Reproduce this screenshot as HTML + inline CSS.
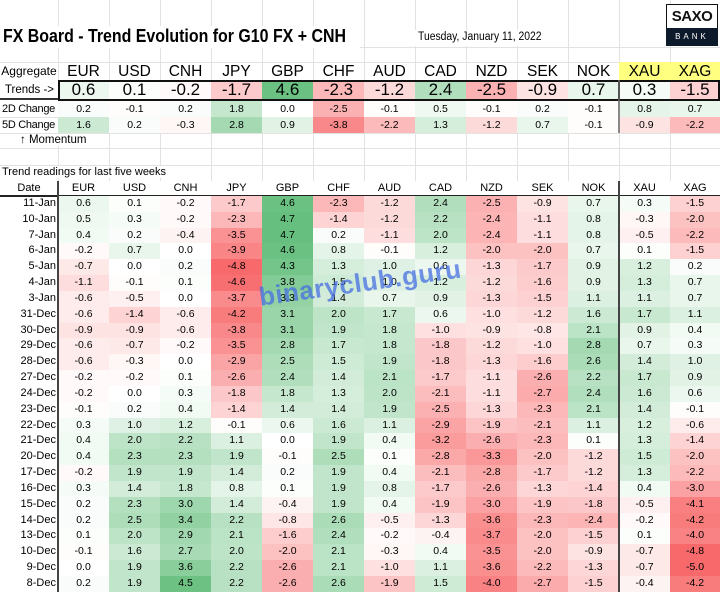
<!DOCTYPE html>
<html><head><meta charset="utf-8"><style>
*{margin:0;padding:0;box-sizing:border-box}
body{width:720px;height:592px;overflow:hidden;background:#fff;font-family:"Liberation Sans",sans-serif;color:#000;position:relative}
.abs{position:absolute}
.r{position:absolute;left:0;width:720px;display:flex}
.r>div{flex:none;width:51px;text-align:center;white-space:nowrap}
.r>div:first-child{width:58px}
.r>div:last-child{width:50px}
.vl{position:absolute;width:1px;background:#e2e2e2}
.hl{position:absolute;height:1px;background:#e2e2e2;left:0;width:720px}
#main{position:absolute;top:196px;left:0;width:720px}
#main .r{position:relative;height:15.84px;line-height:15.84px;font-size:10.5px}
#main .r>div:first-child{text-align:right;padding-right:2px;font-size:11px}
</style></head><body>
<div class="vl" style="left:58px;top:0;height:181px"></div>
<div class="vl" style="left:109px;top:0;height:181px"></div>
<div class="vl" style="left:160px;top:0;height:181px"></div>
<div class="vl" style="left:211px;top:0;height:181px"></div>
<div class="vl" style="left:262px;top:0;height:181px"></div>
<div class="vl" style="left:313px;top:0;height:181px"></div>
<div class="vl" style="left:364px;top:0;height:181px"></div>
<div class="vl" style="left:415px;top:0;height:181px"></div>
<div class="vl" style="left:466px;top:0;height:181px"></div>
<div class="vl" style="left:517px;top:0;height:181px"></div>
<div class="vl" style="left:568px;top:0;height:181px"></div>
<div class="vl" style="left:619px;top:0;height:181px"></div>
<div class="vl" style="left:670px;top:0;height:181px"></div>
<div class="hl" style="top:47px"></div><div class="hl" style="top:62px"></div>
<div class="hl" style="top:117px"></div><div class="hl" style="top:133px"></div>
<div class="hl" style="top:148px"></div><div class="hl" style="top:165px"></div>

<div class="abs" style="left:0;top:26px;width:360px;height:22px;background:#fff"></div>
<div class="abs" style="left:3px;top:26px;font-size:18px;font-weight:bold;white-space:nowrap;transform:scaleX(0.885);transform-origin:left top">FX Board - Trend Evolution for G10 FX + CNH</div>
<div class="abs" style="left:412px;top:30px;width:150px;height:16px;background:#fff"></div>
<div class="abs" style="left:418px;top:31px;font-size:11.5px;white-space:nowrap;transform:scaleX(0.9);transform-origin:left top">Tuesday, January 11, 2022</div>
<div class="abs" style="left:666px;top:4px;width:52px;height:42px;border:1px solid #111;background:#fff"></div>
<div class="abs" style="left:666px;top:8px;width:52px;text-align:center;font-size:15px;font-weight:bold;letter-spacing:-0.5px;color:#111">SAXO</div>
<div class="abs" style="left:666px;top:28px;width:52px;height:18px;background:#0d1a2b;color:#fff;font-size:8px;letter-spacing:3px;text-align:center;line-height:18px">BANK</div>

<div class="abs" style="left:619px;top:62px;width:101px;height:18px;background:#ffff80"></div>
<div class="r" style="top:62px;height:18px;line-height:19px;font-size:15.5px">
<div style="font-size:12px">Aggregate</div><div>EUR</div><div>USD</div><div>CNH</div><div>JPY</div><div>GBP</div><div>CHF</div><div>AUD</div><div>CAD</div><div>NZD</div><div>SEK</div><div>NOK</div><div>XAU</div><div>XAG</div></div>

<div class="r" style="top:80px;height:20px;line-height:20px;font-size:17px">
<div style="font-size:11.5px;text-align:right;padding-right:4px;border-bottom:2px solid #333">Trends -&gt;</div><div class="c">0.6</div><div class="c">0.1</div><div class="c">-0.2</div><div class="c">-1.7</div><div class="c">4.6</div><div class="c">-2.3</div><div class="c">-1.2</div><div class="c">2.4</div><div class="c">-2.5</div><div class="c">-0.9</div><div class="c">0.7</div><div class="c">0.3</div><div class="c">-1.5</div></div>
<div class="abs" style="left:58px;top:80px;width:662px;height:21px;border:2px solid #111"></div>
<div class="abs" style="left:618px;top:80px;width:2px;height:21px;background:#555"></div>

<div class="r" style="top:101px;height:16px;line-height:16px;font-size:10.5px">
<div style="font-size:11px;text-align:left;padding-left:2px;letter-spacing:-0.3px">2D Change</div><div class="c">0.2</div><div class="c">-0.1</div><div class="c">0.2</div><div class="c">1.8</div><div class="c">0.0</div><div class="c">-2.5</div><div class="c">-0.1</div><div class="c">0.5</div><div class="c">-0.1</div><div class="c">0.2</div><div class="c">-0.1</div><div class="c">0.8</div><div class="c">0.7</div></div>
<div class="r" style="top:117px;height:16px;line-height:16px;font-size:10.5px">
<div style="font-size:11px;text-align:left;padding-left:2px;letter-spacing:-0.3px">5D Change</div><div class="c">1.6</div><div class="c">0.2</div><div class="c">-0.3</div><div class="c">2.8</div><div class="c">0.9</div><div class="c">-3.8</div><div class="c">-2.2</div><div class="c">1.3</div><div class="c">-1.2</div><div class="c">0.7</div><div class="c">-0.1</div><div class="c">-0.9</div><div class="c">-2.2</div></div>
<div class="abs" style="left:618px;top:101px;width:2px;height:32px;background:#888"></div>
<div class="abs" style="left:20px;top:134px;font-size:11.5px;white-space:nowrap;background:#fff">↑ Momentum</div>
<div class="abs" style="left:2px;top:166px;font-size:11px;white-space:nowrap;background:#fff;padding-right:4px">Trend readings for last five weeks</div>

<div class="r" style="top:181px;height:15px;line-height:15px;font-size:11px;background:#fff">
<div>Date</div><div>EUR</div><div>USD</div><div>CNH</div><div>JPY</div><div>GBP</div><div>CHF</div><div>AUD</div><div>CAD</div><div>NZD</div><div>SEK</div><div>NOK</div><div>XAU</div><div>XAG</div></div>
<div class="abs" style="left:0;top:195px;width:720px;height:2px;background:#222"></div>

<div id="main">
<div class="r"><div>11-Jan</div><div class="c">0.6</div><div class="c">0.1</div><div class="c">-0.2</div><div class="c">-1.7</div><div class="c">4.6</div><div class="c">-2.3</div><div class="c">-1.2</div><div class="c">2.4</div><div class="c">-2.5</div><div class="c">-0.9</div><div class="c">0.7</div><div class="c">0.3</div><div class="c">-1.5</div></div>
<div class="r"><div>10-Jan</div><div class="c">0.5</div><div class="c">0.3</div><div class="c">-0.2</div><div class="c">-2.3</div><div class="c">4.7</div><div class="c">-1.4</div><div class="c">-1.2</div><div class="c">2.2</div><div class="c">-2.4</div><div class="c">-1.1</div><div class="c">0.8</div><div class="c">-0.3</div><div class="c">-2.0</div></div>
<div class="r"><div>7-Jan</div><div class="c">0.4</div><div class="c">0.2</div><div class="c">-0.4</div><div class="c">-3.5</div><div class="c">4.7</div><div class="c">0.2</div><div class="c">-1.1</div><div class="c">2.0</div><div class="c">-2.4</div><div class="c">-1.1</div><div class="c">0.8</div><div class="c">-0.5</div><div class="c">-2.2</div></div>
<div class="r"><div>6-Jan</div><div class="c">-0.2</div><div class="c">0.7</div><div class="c">0.0</div><div class="c">-3.9</div><div class="c">4.6</div><div class="c">0.8</div><div class="c">-0.1</div><div class="c">1.2</div><div class="c">-2.0</div><div class="c">-2.0</div><div class="c">0.7</div><div class="c">0.1</div><div class="c">-1.5</div></div>
<div class="r"><div>5-Jan</div><div class="c">-0.7</div><div class="c">0.0</div><div class="c">0.2</div><div class="c">-4.8</div><div class="c">4.3</div><div class="c">1.3</div><div class="c">1.0</div><div class="c">0.6</div><div class="c">-1.3</div><div class="c">-1.7</div><div class="c">0.9</div><div class="c">1.2</div><div class="c">0.2</div></div>
<div class="r"><div>4-Jan</div><div class="c">-1.1</div><div class="c">-0.1</div><div class="c">0.1</div><div class="c">-4.6</div><div class="c">3.8</div><div class="c">1.5</div><div class="c">1.0</div><div class="c">1.2</div><div class="c">-1.2</div><div class="c">-1.6</div><div class="c">0.9</div><div class="c">1.3</div><div class="c">0.7</div></div>
<div class="r"><div>3-Jan</div><div class="c">-0.6</div><div class="c">-0.5</div><div class="c">0.0</div><div class="c">-3.7</div><div class="c">3.3</div><div class="c">1.4</div><div class="c">0.7</div><div class="c">0.9</div><div class="c">-1.3</div><div class="c">-1.5</div><div class="c">1.1</div><div class="c">1.1</div><div class="c">0.7</div></div>
<div class="r"><div>31-Dec</div><div class="c">-0.6</div><div class="c">-1.4</div><div class="c">-0.6</div><div class="c">-4.2</div><div class="c">3.1</div><div class="c">2.0</div><div class="c">1.7</div><div class="c">0.6</div><div class="c">-1.0</div><div class="c">-1.2</div><div class="c">1.6</div><div class="c">1.7</div><div class="c">1.1</div></div>
<div class="r"><div>30-Dec</div><div class="c">-0.9</div><div class="c">-0.9</div><div class="c">-0.6</div><div class="c">-3.8</div><div class="c">3.1</div><div class="c">1.9</div><div class="c">1.8</div><div class="c">-1.0</div><div class="c">-0.9</div><div class="c">-0.8</div><div class="c">2.1</div><div class="c">0.9</div><div class="c">0.4</div></div>
<div class="r"><div>29-Dec</div><div class="c">-0.6</div><div class="c">-0.7</div><div class="c">-0.2</div><div class="c">-3.5</div><div class="c">2.8</div><div class="c">1.7</div><div class="c">1.8</div><div class="c">-1.8</div><div class="c">-1.2</div><div class="c">-1.0</div><div class="c">2.8</div><div class="c">0.7</div><div class="c">0.3</div></div>
<div class="r"><div>28-Dec</div><div class="c">-0.6</div><div class="c">-0.3</div><div class="c">0.0</div><div class="c">-2.9</div><div class="c">2.5</div><div class="c">1.5</div><div class="c">1.9</div><div class="c">-1.8</div><div class="c">-1.3</div><div class="c">-1.6</div><div class="c">2.6</div><div class="c">1.4</div><div class="c">1.0</div></div>
<div class="r"><div>27-Dec</div><div class="c">-0.2</div><div class="c">-0.2</div><div class="c">0.1</div><div class="c">-2.6</div><div class="c">2.4</div><div class="c">1.4</div><div class="c">2.1</div><div class="c">-1.7</div><div class="c">-1.1</div><div class="c">-2.6</div><div class="c">2.2</div><div class="c">1.7</div><div class="c">0.9</div></div>
<div class="r"><div>24-Dec</div><div class="c">-0.2</div><div class="c">0.0</div><div class="c">0.3</div><div class="c">-1.8</div><div class="c">1.8</div><div class="c">1.3</div><div class="c">2.0</div><div class="c">-2.1</div><div class="c">-1.1</div><div class="c">-2.7</div><div class="c">2.4</div><div class="c">1.6</div><div class="c">0.6</div></div>
<div class="r"><div>23-Dec</div><div class="c">-0.1</div><div class="c">0.2</div><div class="c">0.4</div><div class="c">-1.4</div><div class="c">1.4</div><div class="c">1.4</div><div class="c">1.9</div><div class="c">-2.5</div><div class="c">-1.3</div><div class="c">-2.3</div><div class="c">2.1</div><div class="c">1.4</div><div class="c">-0.1</div></div>
<div class="r"><div>22-Dec</div><div class="c">0.3</div><div class="c">1.0</div><div class="c">1.2</div><div class="c">-0.1</div><div class="c">0.6</div><div class="c">1.6</div><div class="c">1.1</div><div class="c">-2.9</div><div class="c">-1.9</div><div class="c">-2.1</div><div class="c">1.1</div><div class="c">1.2</div><div class="c">-0.6</div></div>
<div class="r"><div>21-Dec</div><div class="c">0.4</div><div class="c">2.0</div><div class="c">2.2</div><div class="c">1.1</div><div class="c">0.0</div><div class="c">1.9</div><div class="c">0.4</div><div class="c">-3.2</div><div class="c">-2.6</div><div class="c">-2.3</div><div class="c">0.1</div><div class="c">1.3</div><div class="c">-1.4</div></div>
<div class="r"><div>20-Dec</div><div class="c">0.4</div><div class="c">2.3</div><div class="c">2.3</div><div class="c">1.9</div><div class="c">-0.1</div><div class="c">2.5</div><div class="c">0.1</div><div class="c">-2.8</div><div class="c">-3.3</div><div class="c">-2.0</div><div class="c">-1.2</div><div class="c">1.5</div><div class="c">-2.0</div></div>
<div class="r"><div>17-Dec</div><div class="c">-0.2</div><div class="c">1.9</div><div class="c">1.9</div><div class="c">1.4</div><div class="c">0.2</div><div class="c">1.9</div><div class="c">0.4</div><div class="c">-2.1</div><div class="c">-2.8</div><div class="c">-1.7</div><div class="c">-1.2</div><div class="c">1.3</div><div class="c">-2.2</div></div>
<div class="r"><div>16-Dec</div><div class="c">0.3</div><div class="c">1.4</div><div class="c">1.8</div><div class="c">0.8</div><div class="c">0.1</div><div class="c">1.9</div><div class="c">0.8</div><div class="c">-1.7</div><div class="c">-2.6</div><div class="c">-1.3</div><div class="c">-1.4</div><div class="c">0.4</div><div class="c">-3.0</div></div>
<div class="r"><div>15-Dec</div><div class="c">0.2</div><div class="c">2.3</div><div class="c">3.0</div><div class="c">1.4</div><div class="c">-0.4</div><div class="c">1.9</div><div class="c">0.4</div><div class="c">-1.9</div><div class="c">-3.0</div><div class="c">-1.9</div><div class="c">-1.8</div><div class="c">-0.5</div><div class="c">-4.1</div></div>
<div class="r"><div>14-Dec</div><div class="c">0.2</div><div class="c">2.5</div><div class="c">3.4</div><div class="c">2.2</div><div class="c">-0.8</div><div class="c">2.6</div><div class="c">-0.5</div><div class="c">-1.3</div><div class="c">-3.6</div><div class="c">-2.3</div><div class="c">-2.4</div><div class="c">-0.2</div><div class="c">-4.2</div></div>
<div class="r"><div>13-Dec</div><div class="c">0.1</div><div class="c">2.0</div><div class="c">2.9</div><div class="c">2.1</div><div class="c">-1.6</div><div class="c">2.4</div><div class="c">-0.2</div><div class="c">-0.4</div><div class="c">-3.7</div><div class="c">-2.0</div><div class="c">-1.5</div><div class="c">0.1</div><div class="c">-4.0</div></div>
<div class="r"><div>10-Dec</div><div class="c">-0.1</div><div class="c">1.6</div><div class="c">2.7</div><div class="c">2.0</div><div class="c">-2.0</div><div class="c">2.1</div><div class="c">-0.3</div><div class="c">0.4</div><div class="c">-3.5</div><div class="c">-2.0</div><div class="c">-0.9</div><div class="c">-0.7</div><div class="c">-4.8</div></div>
<div class="r"><div>9-Dec</div><div class="c">0.0</div><div class="c">1.9</div><div class="c">3.6</div><div class="c">2.2</div><div class="c">-2.6</div><div class="c">2.1</div><div class="c">-1.0</div><div class="c">1.1</div><div class="c">-3.6</div><div class="c">-2.2</div><div class="c">-1.3</div><div class="c">-0.7</div><div class="c">-5.0</div></div>
<div class="r"><div>8-Dec</div><div class="c">0.2</div><div class="c">1.9</div><div class="c">4.5</div><div class="c">2.2</div><div class="c">-2.6</div><div class="c">2.6</div><div class="c">-1.9</div><div class="c">1.5</div><div class="c">-4.0</div><div class="c">-2.7</div><div class="c">-1.5</div><div class="c">-0.4</div><div class="c">-4.2</div></div>
</div>
<div class="abs" style="left:57px;top:181px;width:2px;height:411px;background:#444"></div>
<div class="abs" style="left:618px;top:181px;width:2px;height:411px;background:#444"></div>
<div class="abs" style="left:257px;top:282px;font-size:26px;font-weight:bold;color:rgba(70,110,225,0.75);transform:rotate(-8deg);transform-origin:left top;white-space:nowrap;letter-spacing:0.5px">binaryclub.guru</div>
<script>
document.querySelectorAll('.c').forEach(function(e){
var v=parseFloat(e.textContent),t=Math.min(Math.abs(v)/4.8,1),c;
if(v>=0)c=[255-156*t,255-65*t,255-132*t];else c=[255-7*t,255-150*t,255-148*t];
e.style.background='rgb('+c.map(Math.round).join(',')+')';});
</script>
</body></html>
